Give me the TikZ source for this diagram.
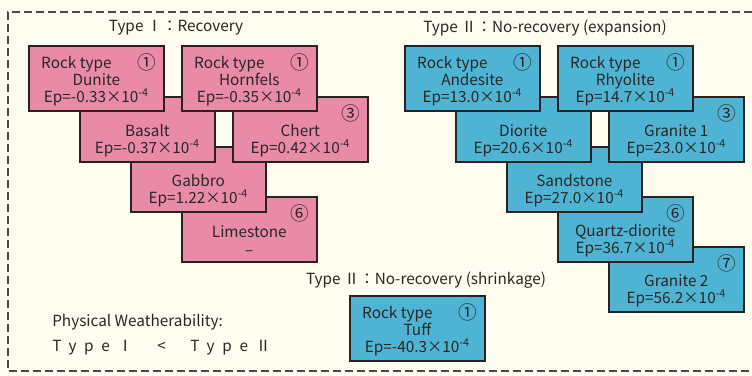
\documentclass[tikz,border=0pt]{standalone}
\usepackage{fontspec}
\setmainfont{Noto Sans CJK KR}
\usetikzlibrary{positioning}
\definecolor{rockPink}{HTML}{E98AA8}
\definecolor{rockBlue}{HTML}{4FB4D4}
\definecolor{paperCream}{HTML}{FFFDF0}
\definecolor{edgeDark}{HTML}{2A2222}
\definecolor{textDark}{HTML}{2A2626}
\definecolor{frameGray}{HTML}{4A4A4A}

\begin{document}
\begin{tikzpicture}[
    x=0.75pt, y=-0.75pt,
    rock/.style={rectangle, draw=edgeDark, line width=1.5pt, anchor=north west,
                 minimum width=101pt, minimum height=49pt, inner sep=0pt, text height=38pt,
                 align=center, text=textDark, font={\fontsize{11.5}{12.8}\selectfont}},
    pinkrock/.style={rock, fill=rockPink},
    bluerock/.style={rock, fill=rockBlue},
    num/.style={anchor=north east, inner sep=0pt, xshift=-6pt, yshift=-6.5pt,
                text=textDark, font={\fontsize{14}{12.8}\selectfont}},
    heading/.style={inner sep=0pt, text=textDark, font={\fontsize{11.5}{12.8}\selectfont}},
    frame/.style={draw=frameGray, line width=1.3pt, dash pattern=on 6pt off 3pt}
]

\fill[paperCream] (0,0) rectangle (752,375);
\useasboundingbox (0,0) rectangle (752,375);
\draw[frame] (752,12) -- (8,12) -- (8,371) -- (752,371);

% Type I, back rows first
\node[pinkrock, label={[num]north east:⑥}] (limestone) at (181,196) {\strut\\Limestone\\--};
\node[pinkrock] (gabbro) at (130,146) {\strut\\Gabbro\\Ep=1.22×10\textsuperscript{-4}};
\node[pinkrock] (basalt) at (79,96) {\strut\\Basalt\\Ep=-0.37×10\textsuperscript{-4}};
\node[pinkrock, label={[num]north east:③}] (chert) at (232,96) {\strut\\Chert\\Ep=0.42×10\textsuperscript{-4}};
\node[pinkrock, label={[num]north east:①}] (dunite) at (28,45) {Rock type\hspace*{2.6em}\\Dunite\\Ep=-0.33×10\textsuperscript{-4}};
\node[pinkrock, label={[num]north east:①}] (hornfels) at (181,45) {Rock type\hspace*{2.6em}\\Hornfels\\Ep=-0.35×10\textsuperscript{-4}};

% Type II, back rows first
\node[bluerock, label={[num]north east:⑦}] (graniteB) at (608,246) {\strut\\Granite 2\\Ep=56.2×10\textsuperscript{-4}};
\node[bluerock, label={[num]north east:⑥}] (qdiorite) at (557,196) {\strut\\Quartz-diorite\\Ep=36.7×10\textsuperscript{-4}};
\node[bluerock] (sandstone) at (506,146) {\strut\\Sandstone\\Ep=27.0×10\textsuperscript{-4}};
\node[bluerock] (diorite) at (455,96) {\strut\\Diorite\\Ep=20.6×10\textsuperscript{-4}};
\node[bluerock, label={[num]north east:③}] (graniteA) at (608,96) {\strut\\Granite 1\\Ep=23.0×10\textsuperscript{-4}};
\node[bluerock, label={[num]north east:①}] (andesite) at (404,45) {Rock type\hspace*{2.6em}\\Andesite\\Ep=13.0×10\textsuperscript{-4}};
\node[bluerock, label={[num]north east:①}] (rhyolite) at (557,45) {Rock type\hspace*{2.6em}\\Rhyolite\\Ep=14.7×10\textsuperscript{-4}};
\node[bluerock, label={[num]north east:①}] (tuff) at (349,295) {Rock type\hspace*{2.6em}\\Tuff\\Ep=-40.3×10\textsuperscript{-4}};

% headings
\node[heading] (recTitle) at (176,28) {Type Ⅰ：Recovery};
\node[heading] (expTitle) at (545,28) {Type Ⅱ：No-recovery (expansion)};
\node[heading] (shrTitle) at (426,280) {Type Ⅱ：No-recovery (shrinkage)};
\node[heading, anchor=west] (weather) at (52,322) {Physical Weatherability:};
\node[heading, anchor=west] (order) at (52,348) {\addfontfeature{LetterSpace=50}TypeⅠ\hspace*{1.6em}<\hspace*{1.6em}TypeⅡ};

\end{tikzpicture}
\end{document}
